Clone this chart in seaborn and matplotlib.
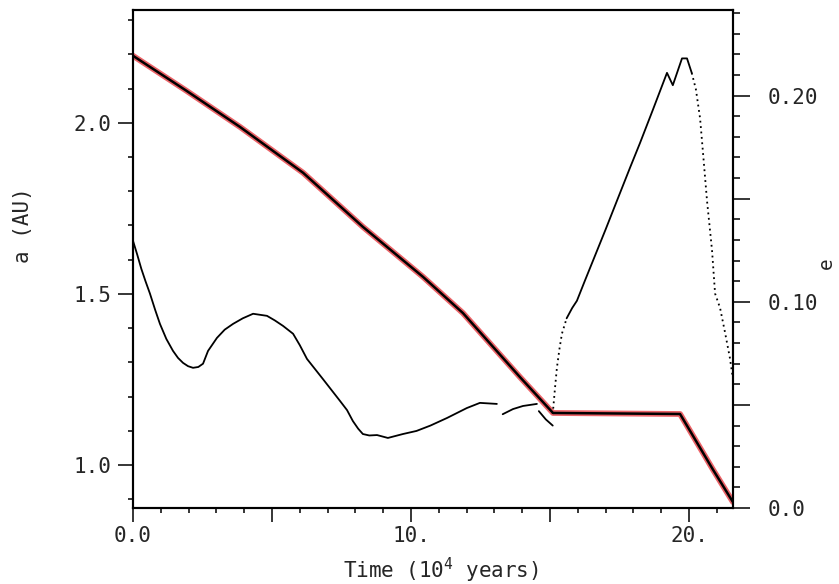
import numpy as np
import pandas as pd
import matplotlib
matplotlib.use("Agg")
import matplotlib.pyplot as plt
import seaborn as sns
from matplotlib.ticker import MultipleLocator, FixedLocator, FixedFormatter

# --------------------------------------------------------------
# Data
# --------------------------------------------------------------
# semi-major axis a (AU) vs time (10^4 yr)
a_time = [0.0, 1.9, 3.85, 6.12, 8.27, 10.43, 11.87, 13.92, 15.11, 19.68, 20.86, 21.58]
a_vals = [2.196, 2.095, 1.988, 1.854, 1.696, 1.550, 1.444, 1.257, 1.152, 1.149, 0.987, 0.892]

# eccentricity e: solid pieces
e1_time = [0.0, 0.15, 0.3, 0.45, 0.61, 0.8, 0.97, 1.2, 1.44, 1.62, 1.8, 1.98, 2.16, 2.35, 2.52,
           2.7, 3.02, 3.3, 3.6, 3.95, 4.32, 4.82, 5.1, 5.4, 5.76, 6.0, 6.26, 6.83, 7.45, 7.7,
           7.91, 8.1, 8.27, 8.5, 8.78, 9.17, 9.71, 10.2, 10.7, 11.3, 12.01, 12.48, 13.09]
e1_vals = [0.1296, 0.123, 0.116, 0.110, 0.104, 0.096, 0.0893, 0.082, 0.0762, 0.0728, 0.0704,
           0.0688, 0.068, 0.0684, 0.070, 0.0762, 0.0825, 0.0865, 0.0893, 0.092, 0.0942, 0.0932,
           0.091, 0.0883, 0.0845, 0.079, 0.0723, 0.0626, 0.0519, 0.0475, 0.0422, 0.0385,
           0.0359, 0.0352, 0.0354, 0.034, 0.0359, 0.0374, 0.040, 0.0437, 0.0485, 0.051, 0.0505]
e2_time = [13.3, 13.67, 14.03, 14.53]
e2_vals = [0.0455, 0.048, 0.0495, 0.0505]
e3_time = [14.6, 14.85, 15.1]
e3_vals = [0.047, 0.043, 0.040]
e5_time = [15.6, 15.8, 15.97, 16.25, 16.55, 17.0, 17.41, 17.88, 18.24, 18.7, 19.21, 19.42,
           19.75, 19.93, 20.1]
e5_vals = [0.092, 0.097, 0.1005, 0.110, 0.12, 0.135, 0.149, 0.165, 0.177, 0.193, 0.211,
           0.205, 0.218, 0.218, 0.211]

# eccentricity e: dotted (fast) pieces
e4_time = [15.1, 15.18, 15.25, 15.34, 15.43, 15.6]
e4_vals = [0.0456, 0.058, 0.068, 0.077, 0.0845, 0.092]
e6_time = [20.1, 20.25, 20.4, 20.52, 20.65, 20.83, 20.94, 21.12, 21.3, 21.47, 21.58]
e6_vals = [0.211, 0.203, 0.189, 0.170, 0.149, 0.125, 0.104, 0.097, 0.085, 0.073, 0.063]

x_major = [0, 5, 10, 15, 20]
x_labels = ["0.0", "", "10.", "", "20."]
a_major = [1.0, 1.5, 2.0]
a_labels = ["1.0", "1.5", "2.0"]
e_major = [0.0, 0.05, 0.10, 0.15, 0.20]
e_labels = ["0.0", "", "0.10", "", "0.20"]

# --------------------------------------------------------------
# Figure
# --------------------------------------------------------------
sns.set_style("ticks")
plt.rcParams["font.family"] = ["DejaVu Sans Mono"]
plt.rcParams["mathtext.default"] = "regular"
plt.rcParams["font.size"] = 15

fig = plt.figure(figsize=(8.39, 5.84), dpi=100)
ax = fig.add_axes([0.1585, 0.130, 0.715, 0.853])
ax2 = ax.twinx()

# red highlighter under a
sns.lineplot(x=a_time, y=a_vals, ax=ax, color="#e63c42", alpha=0.8, lw=4.2,
             sort=False, estimator=None)
sns.lineplot(x=a_time, y=a_vals, ax=ax, color="black", lw=1.8, sort=False, estimator=None)

for tt, vv in [(e1_time, e1_vals), (e2_time, e2_vals), (e3_time, e3_vals), (e5_time, e5_vals)]:
    sns.lineplot(x=tt, y=vv, ax=ax2, color="black", lw=1.3, sort=False, estimator=None)
for tt, vv in [(e4_time, e4_vals), (e6_time, e6_vals)]:
    sns.lineplot(x=tt, y=vv, ax=ax2, color="black", lw=1.3, ls=(0, (1, 2)),
                 sort=False, estimator=None)

ax.set_xlim(0, 21.58)
ax.set_ylim(0.874, 2.33)
ax2.set_ylim(0, 0.2415)

ax.xaxis.set_major_locator(FixedLocator(x_major))
ax.xaxis.set_major_formatter(FixedFormatter(x_labels))
ax.xaxis.set_minor_locator(MultipleLocator(1))
ax.yaxis.set_major_locator(FixedLocator(a_major))
ax.yaxis.set_major_formatter(FixedFormatter(a_labels))
ax.yaxis.set_minor_locator(MultipleLocator(0.1))
ax2.yaxis.set_major_locator(FixedLocator(e_major))
ax2.yaxis.set_major_formatter(FixedFormatter(e_labels))
ax2.yaxis.set_minor_locator(MultipleLocator(0.01))

ax.tick_params(axis="x", which="major", direction="out", length=10, width=1.3, pad=3, labelsize=15)
ax.tick_params(axis="x", which="minor", direction="out", length=3.6, width=1.3)
ax.tick_params(axis="y", which="major", direction="out", length=10.8, width=1.3, pad=5, labelsize=15)
ax.tick_params(axis="y", which="minor", direction="out", length=3.6, width=1.3)
ax2.tick_params(axis="y", which="major", direction="out", length=12, width=1.3, pad=13, labelsize=15)
ax2.tick_params(axis="y", which="minor", direction="out", length=5, width=1.3)

for a_ in (ax, ax2):
    for s in a_.spines.values():
        s.set_linewidth(1.5)
        s.set_color("black")
    a_.set_xlabel("")
    a_.set_ylabel("")

fig.text(0.525, 0.024, "Time (10$^4$ years)", ha="center", va="center", fontsize=15)
fig.text(0.027, 0.615, "a (AU)", ha="center", va="center", rotation=90, fontsize=15)
fig.text(0.985, 0.55, "e", ha="center", va="center", rotation=90, fontsize=14)

fig.savefig("out.png", dpi=100)
